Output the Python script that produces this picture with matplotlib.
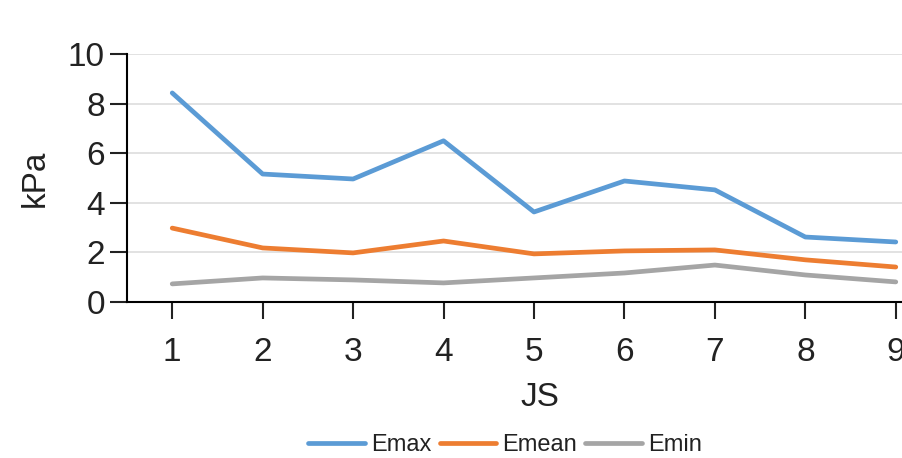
import matplotlib.pyplot as plt

# 資料
js = [1, 2, 3, 4, 5, 6, 7, 8, 9]
emax = [8.43, 5.16, 4.96, 6.5, 3.63, 4.88, 4.52, 2.62, 2.42]
emean = [2.98, 2.18, 1.98, 2.46, 1.94, 2.06, 2.1, 1.7, 1.41]
emin = [0.73, 0.97, 0.89, 0.77, 0.97, 1.17, 1.49, 1.09, 0.81]

plt.rcParams['font.family'] = ['Liberation Sans', 'DejaVu Sans']

fig = plt.figure(figsize=(9.02, 4.58), dpi=100)
ax = fig.add_axes([127 / 902, 1 - 302 / 458, 814 / 902, 248 / 458])

ax.plot(js, emax, color='#5B9BD5', lw=3.4, label='Emax', solid_capstyle='round')
ax.plot(js, emean, color='#ED7D31', lw=3.4, label='Emean', solid_capstyle='round')
ax.plot(js, emin, color='#A5A5A5', lw=3.4, label='Emin', solid_capstyle='round')

ax.set_xlim(0.5, 9.5)
ax.set_ylim(0, 10)
ax.set_xticks(js)
ax.set_yticks([0, 2, 4, 6, 8, 10])
ax.yaxis.grid(True, color='#DDDDDD', lw=1.2)
ax.set_axisbelow(True)

for s in ['top', 'right']:
    ax.spines[s].set_visible(False)
ax.spines['left'].set_linewidth(1.5)
ax.spines['bottom'].set_linewidth(1.5)
ax.tick_params(axis='both', labelsize=24, width=1.5, length=12, color='#222222',
               labelcolor='#222222')
ax.tick_params(axis='x', pad=13)
ax.tick_params(axis='y', pad=4)

ax.set_xlabel('JS', fontsize=24, color='#222222')
ax.set_ylabel('kPa', fontsize=24, color='#222222', labelpad=12)
ax.xaxis.set_label_coords((540 - 127) / 814, -80 / 248)

fig.legend(loc='center', bbox_to_anchor=(505 / 902, 1 - 445 / 458), ncol=3,
           frameon=False, fontsize=17, handlelength=2.4, handletextpad=0.25,
           columnspacing=0.35, labelcolor='#222222')

fig.savefig('out.png', dpi=100)
